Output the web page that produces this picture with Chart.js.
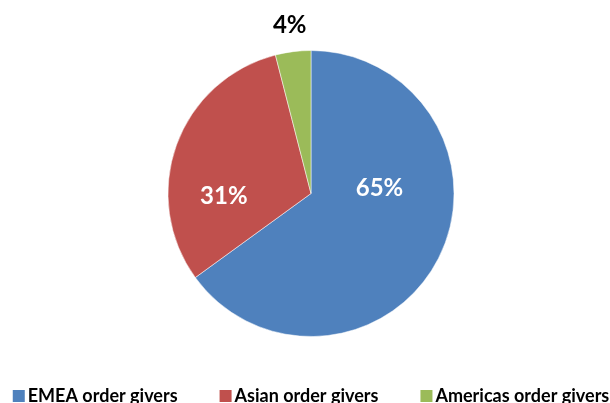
<!DOCTYPE html>
<html lang="en">
<head>
  <meta charset="UTF-8" />
  <title>Order givers by region</title>
  <script src="https://cdn.jsdelivr.net/npm/chart.js"></script>
  <style>
    html, body { margin: 0; padding: 0; background: #fff; overflow: hidden; }
    #wrap { width: 610px; height: 403px; }
  </style>
</head>
<body>
  <div id="wrap"><canvas id="regionChart"></canvas></div>

  <script>
    const regions = ['EMEA order givers', 'Asian order givers', 'Americas order givers'];
    const shares = [65, 31, 4];

    // percentage labels, placed relative to each arc (Excel-like placement)
    const pieLabels = {
      id: 'pieLabels',
      afterDatasetsDraw(chart, args, opts) {
        const ctx = chart.ctx;
        const meta = chart.getDatasetMeta(0);
        ctx.save();
        ctx.font = opts.font;
        ctx.textAlign = 'center';
        ctx.textBaseline = 'middle';
        meta.data.forEach((arc, i) => {
          const p = opts.place[i];
          const r = arc.outerRadius;
          let ang, dist;
          if (p.outside) {
            ang = (arc.startAngle + arc.endAngle) / 2;
            dist = r + p.gap;
          } else {
            ang = p.angle * Math.PI / 180;
            dist = r * p.radius;
          }
          ctx.fillStyle = p.colour;
          ctx.fillText(shares[i] + '%', arc.x + Math.cos(ang) * dist, arc.y + Math.sin(ang) * dist);
        });
        ctx.restore();
      }
    };

    // single-row legend with the tight box/text spacing of the original
    const bottomLegend = {
      id: 'bottomLegend',
      afterDraw(chart, args, opts) {
        const ctx = chart.ctx;
        const colours = chart.data.datasets[0].backgroundColor;
        ctx.save();
        ctx.font = opts.font;
        ctx.textBaseline = 'middle';
        const widths = chart.data.labels.map(t => opts.box + opts.textGap + ctx.measureText(t).width);
        const total = widths.reduce((a, b) => a + b, 0) + opts.itemGap * (widths.length - 1);
        let x = (chart.chartArea.left + chart.chartArea.right) / 2 - total / 2;
        const y = chart.height - opts.bottom;
        chart.data.labels.forEach((t, i) => {
          ctx.fillStyle = colours[i];
          ctx.fillRect(x, y - opts.box / 2, opts.box, opts.box);
          ctx.fillStyle = opts.colour;
          ctx.fillText(t, x + opts.box + opts.textGap, y);
          x += widths[i] + opts.itemGap;
        });
        ctx.restore();
      }
    };

    new Chart(document.getElementById('regionChart'), {
      type: 'pie',
      data: {
        labels: regions,
        datasets: [{
          data: shares,
          backgroundColor: ['#4F81BD', '#C0504D', '#9BBB59'],
          borderColor: 'rgba(255,255,255,0.5)',
          borderWidth: 1
        }]
      },
      options: {
        responsive: true,
        maintainAspectRatio: false,
        animation: false,
        layout: { padding: { top: 50, bottom: 66, left: 12 } },
        plugins: {
          tooltip: { enabled: false },
          legend: { display: false },
          pieLabels: {
            font: 'bold 24px Lato',
            place: [
              { angle: -4, radius: 0.48, colour: '#fff' },
              { angle: 178, radius: 0.61, colour: '#fff' },
              { outside: true, gap: 27, colour: '#000' }
            ]
          },
          bottomLegend: {
            font: 'bold 18px Lato',
            colour: '#000',
            box: 12,
            textGap: 3,
            itemGap: 42,
            bottom: 7
          }
        }
      },
      plugins: [pieLabels, bottomLegend]
    });
  </script>
</body>
</html>
